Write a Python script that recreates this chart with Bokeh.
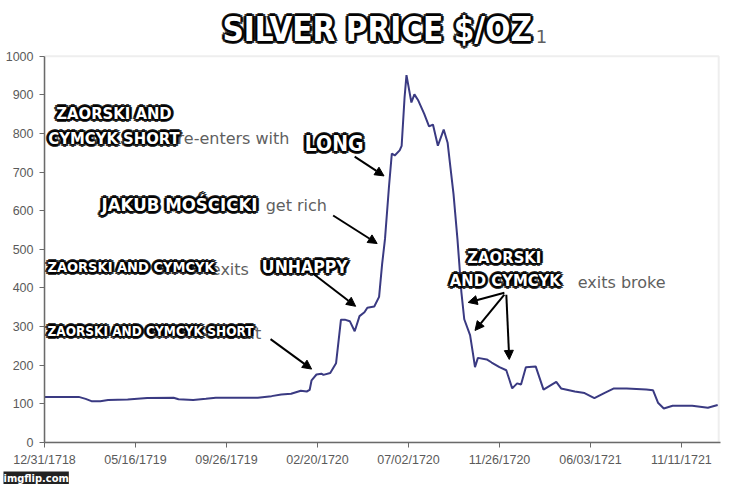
from bokeh.plotting import figure
from bokeh.models import (Label, Arrow, NormalHead, FixedTicker, Range1d,
                          BoxAnnotation, Title)
from bokeh.embed import file_html
from bokeh.resources import INLINE

# ---- data ----
tick_labels = ["12/31/1718", "05/16/1719", "09/26/1719", "02/20/1720",
               "07/02/1720", "11/26/1720", "06/03/1721", "11/11/1721"]
tick_pos = [0, 1, 2, 3, 4, 5, 6, 7]
y_ticks = [0, 100, 200, 300, 400, 500, 600, 700, 800, 900, 1000]

# x in axis-label units (one unit per labelled tick), y = price
period = [0.000, 0.376, 0.452, 0.516, 0.613, 0.699, 0.914, 1.129, 1.419, 1.473,
          1.634, 1.774, 1.882, 2.344, 2.495, 2.602, 2.710, 2.817, 2.882, 2.914,
          2.935, 2.989, 3.043, 3.065, 3.140, 3.204, 3.258, 3.301, 3.355, 3.409,
          3.462, 3.516, 3.548, 3.624, 3.677, 3.710, 3.742, 3.785, 3.817, 3.849,
          3.903, 3.925, 3.957, 3.978, 4.032, 4.065, 4.108, 4.172, 4.226, 4.269,
          4.323, 4.387, 4.430, 4.462, 4.495, 4.538, 4.559, 4.581, 4.613, 4.677,
          4.710, 4.731, 4.763, 4.860, 4.914, 5.000, 5.075, 5.140, 5.194, 5.237,
          5.290, 5.398, 5.484, 5.624, 5.677, 5.828, 5.935, 6.043, 6.151, 6.258,
          6.398, 6.613, 6.688, 6.742, 6.806, 6.903, 7.118, 7.290, 7.398]
price = [118, 118, 113, 107, 107, 110, 111, 115, 116, 112,
         110, 113, 116, 116, 120, 124, 126, 134, 132, 136,
         161, 176, 178, 175, 180, 205, 318, 318, 314, 288,
         327, 337, 349, 352, 377, 461, 527, 660, 748, 743,
         756, 768, 893, 951, 880, 901, 885, 851, 818, 823,
         768, 810, 776, 710, 643, 527, 461, 390, 319, 278,
         228, 195, 219, 215, 207, 195, 187, 140, 153, 150,
         195, 197, 137, 157, 140, 132, 128, 115, 128, 140,
         140, 137, 135, 103, 88, 95, 95, 90, 97]

W, H = 731, 484
X_END = 7.429     # frame right edge (axis units)
Y_END = 1144      # frame reaches the top of the canvas so the title fits
AREA_RIGHT = 7.409

p = figure(width=W, height=H, output_backend="svg", toolbar_location=None,
           x_range=Range1d(0, X_END), y_range=Range1d(0, Y_END),
           min_border_left=44, min_border_right=11, min_border_top=0,
           min_border_bottom=41, background_fill_color="white",
           border_fill_color="white")
p.grid.visible = False
p.outline_line_color = None

for ax in (p.xaxis[0], p.yaxis[0]):
    ax.axis_line_color = "#6a6a6a"
    ax.axis_line_width = 1.5
    ax.major_tick_line_color = "#6a6a6a"
    ax.major_tick_out = 5
    ax.major_tick_in = 0
    ax.minor_tick_line_color = None
    ax.major_label_text_color = "#5a5a5a"
    ax.major_label_text_font = "Liberation Sans"
    ax.major_label_text_font_size = "12.5px"

p.xaxis.ticker = FixedTicker(ticks=tick_pos)
p.xaxis.major_label_overrides = {i: s for i, s in zip(tick_pos, tick_labels)}
p.yaxis.ticker = FixedTicker(ticks=y_ticks)
p.yaxis.bounds = (0, 1000)
p.yaxis.major_label_standoff = 6

# plot-area border (top and right edges visible)
p.add_layout(BoxAnnotation(left=0, right=AREA_RIGHT, bottom=0, top=1000,
                           fill_alpha=0, line_color="#c8c8c8", line_width=2,
                           level="underlay"))

p.line(period, price, line_color="#3a3a82", line_width=2)


def X(px):
    return (px - 45) / 93.0


def Y(py):
    return (458 - py) / 0.4


# faded text of the original chart
gray = [("re-enters with", 181, 143, 16), ("get rich", 271, 213, 16),
        ("exits", 215, 279, 16), ("a bit", 230, 345, 16),
        ("exits broke", 590, 292, 16), ("1", 547, 38, 18)]
for t, px, py, fs in gray:
    p.add_layout(Label(x=X(px), y=Y(py), text=t, text_align="left",
                       text_baseline="middle", text_font="DejaVu Sans",
                       text_font_size=f"{fs}px", text_color="#5f5f5f"))

# arrows
arrows = [(276, 351, 318, 382), (318, 282, 363, 317), (340, 223, 385, 252),
          (362, 162, 392, 182), (515, 303, 478, 313), (515, 305, 485, 342),
          (517, 305, 520, 372)]
for x0, y0, x1, y1 in arrows:
    p.add_layout(Arrow(x_start=X(x0), y_start=Y(y0), x_end=X(x1), y_end=Y(y1),
                       line_color="black", line_width=2,
                       end=NormalHead(size=9, fill_color="black",
                                      line_color="black")))

MEME = "'Liberation Sans Narrow', 'DejaVu Sans Condensed', sans-serif"
# (text, ref x, ref y, size, align)
memes = [("SILVER PRICE $/OZ", 385, 30, 33, "center"),
         ("ZAORSKI AND", 116, 117, 16.5, "center"),
         ("CYMCYK SHORT", 116, 143, 16.5, "center"),
         ("LONG", 341, 149, 21, "center"),
         ("JAKUB MOŚCICKI", 183, 212, 18.5, "center"),
         ("ZAORSKI AND CYMCYK", 48, 276, 14.5, "left"),
         ("UNHAPPY", 311, 276, 17.5, "center"),
         ("ZAORSKI AND CYMCYK SHORT", 48, 343, 13.5, "left"),
         ("ZAORSKI", 515, 266, 16.5, "center"),
         ("AND CYMCYK", 516, 290, 16.5, "center")]
offs = [(-3, 0), (3, 0), (0, -3), (0, 3), (-2, -2), (-2, 2), (2, -2), (2, 2),
        (-1, 0), (1, 0), (0, 1), (0, -1)]
for t, px, py, fs, al in memes:
    for dx, dy in offs:
        p.add_layout(Label(x=X(px), y=Y(py), x_offset=dx, y_offset=dy, text=t,
                           text_align=al, text_baseline="middle",
                           text_font=MEME, text_font_style="bold",
                           text_font_size=f"{fs}px", text_color="black",
                           text_alpha=0.8))
    p.add_layout(Label(x=X(px), y=Y(py), text=t, text_align=al,
                       text_baseline="middle", text_font=MEME,
                       text_font_style="bold", text_font_size=f"{fs}px",
                       text_color="white"))

# watermark below the axis
p.add_layout(Title(text="imgflip.com", align="left", offset=-41, standoff=0,
                   text_font=MEME, text_font_style="bold",
                   text_font_size="11px", text_color="white",
                   background_fill_color="#222222"), "below")

open("out.html", "w").write(file_html(p, INLINE))
